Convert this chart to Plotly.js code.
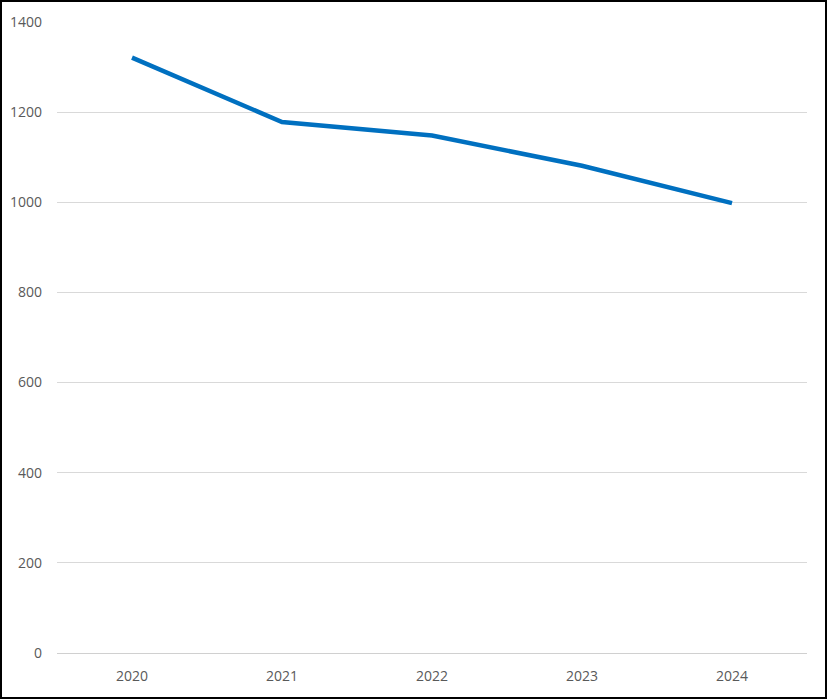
<!DOCTYPE html>
<html>
<head>
<meta charset="utf-8">
<script src="https://cdn.plot.ly/plotly-3.0.1.min.js"></script>
<style>
html,body{margin:0;padding:0;background:#fff;}
#wrap{position:relative;width:827px;height:699px;}
#chart{width:827px;height:699px;}
#frame{position:absolute;left:0;top:0;width:827px;height:699px;box-sizing:border-box;border:2px solid #000;pointer-events:none;}
</style>
</head>
<body>
<div id="wrap"><div id="chart"></div><div id="frame"></div></div>
<script>
const years = ['2020', '2021', '2022', '2023', '2024'];
const values = [1321, 1178, 1148, 1081, 998];
const yTicks = [0, 200, 400, 600, 800, 1000, 1200, 1400];

Plotly.newPlot('chart', [{
  x: years,
  y: values,
  type: 'scatter',
  mode: 'lines',
  line: {color: '#0070C0', width: 4.5},
  hoverinfo: 'none'
}], {
  width: 827,
  height: 699,
  margin: {l: 57, r: 20, t: 22, b: 46},
  paper_bgcolor: '#fff',
  plot_bgcolor: '#fff',
  showlegend: false,
  font: {family: 'Open Sans, Noto Sans, sans-serif', size: 14, color: '#595959'},
  xaxis: {
    type: 'category',
    range: [-0.5, 4.5],
    showgrid: false,
    zeroline: false,
    showline: false,
    ticks: '',
    ticklabelstandoff: 13,
    fixedrange: true
  },
  yaxis: {
    range: [0, 1400],
    tickvals: yTicks,
    ticktext: yTicks.map(String),
    showgrid: true,
    gridcolor: '#d9d9d9',
    gridwidth: 1,
    zeroline: true,
    zerolinecolor: '#d0d0d0',
    zerolinewidth: 1,
    showline: false,
    ticks: '',
    ticklabelstandoff: 14,
    fixedrange: true
  }
}, {displayModeBar: false, staticPlot: true});
</script>
</body>
</html>
